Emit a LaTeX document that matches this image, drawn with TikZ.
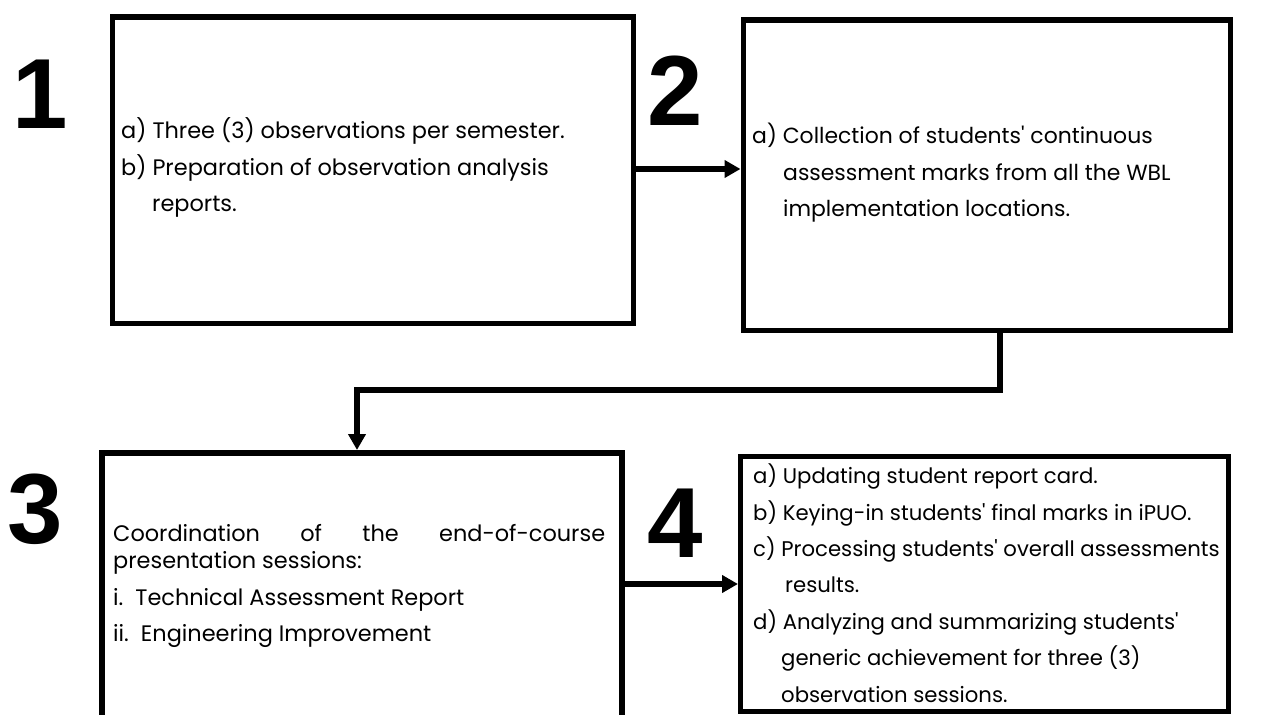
\documentclass[tikz,border=0pt]{standalone}
\usepackage{fontspec}
\setmainfont{Poppins}[Ligatures=TeXOff]
\newfontfamily\numfont{Liberation Sans}
\usetikzlibrary{arrows.meta, positioning}

\begin{document}
\begin{tikzpicture}[x=1bp, y=-1bp,
    stepbox/.style={
        rectangle, draw=black, line width=5.5bp, inner sep=0pt, anchor=north west
    },
    steptext/.style={
        anchor=base west, inner sep=0pt, align=left,
        font=\fontsize{22.5}{37}\selectfont
    },
    stepnum/.style={
        font=\numfont\bfseries\fontsize{100}{100}\selectfont, inner sep=0pt
    },
    arrow/.style={-{Triangle[length=16bp, width=17bp]}, line width=6bp}
]
    \clip (0,0) rectangle (1266,715);

    % boxes
    \node [stepbox, minimum width=521bp, minimum height=306bp] (box1) at (109.5,14.5) {};
    \node [stepbox, minimum width=487bp, minimum height=310bp] (box2) at (740.5,17.5) {};
    \node [stepbox, minimum width=520bp, minimum height=320bp] (box3) at (99,450) {};
    \node [stepbox, line width=4.5bp, minimum width=488bp, minimum height=255bp] (box4) at (738,454) {};

    % step numbers
    \node [stepnum] (num1) at (40,94) {1};
    \node [stepnum] (num2) at (675,91) {2};
    \node [stepnum] (num3) at (35,509) {3};
    \node [stepnum] (num4) at (675,523) {4};

    % texts (base = last line)
    \node [steptext] (txt1) at (121,212) {
        a) Three (3) observations per semester.\\
        b) Preparation of observation analysis\\
        \hspace*{31bp}reports.
    };
    \node [steptext, font=\fontsize{22}{37}\selectfont] (txt2) at (752,217) {
        a) Collection of students' continuous\\
        \hspace*{31bp}assessment marks from all the WBL\\
        \hspace*{31bp}implementation locations.
    };
    \node [steptext, align=justify, text width=492bp,
           font=\fontsize{22.5}{28}\selectfont] (txt3a) at (113,541) {
        Coordination of the end-of-course\linebreak presentation sessions:
    };
    \node [steptext, font=\fontsize{22.5}{36}\selectfont] (txt3b) at (113,641) {
        i.\ \ Technical Assessment Report\\
        ii.\ \ Engineering Improvement
    };
    \node [steptext, font=\fontsize{21.3}{36.5}\selectfont] (txt4) at (753,702) {
        a) Updating student report card.\\
        b) Keying-in students' final marks in iPUO.\\
        c) Processing students' overall assessments\\
        \hspace*{32bp}results.\\
        d) Analyzing and summarizing students'\\
        \hspace*{28bp}generic achievement for three (3)\\
        \hspace*{28bp}observation sessions.
    };

    % connectors
    \coordinate (bend1) at (1000,390);
    \coordinate (bend2) at (357,390);
    \draw [arrow] (box1.east |- 0,169) -- (box2.west |- 0,169);
    \draw [arrow] (box2.south -| bend1) -- (bend1) -- (bend2) -- (box3.north -| bend2);
    \draw [arrow] (box3.east |- 0,584) -- (box4.west |- 0,584);
\end{tikzpicture}
\end{document}
